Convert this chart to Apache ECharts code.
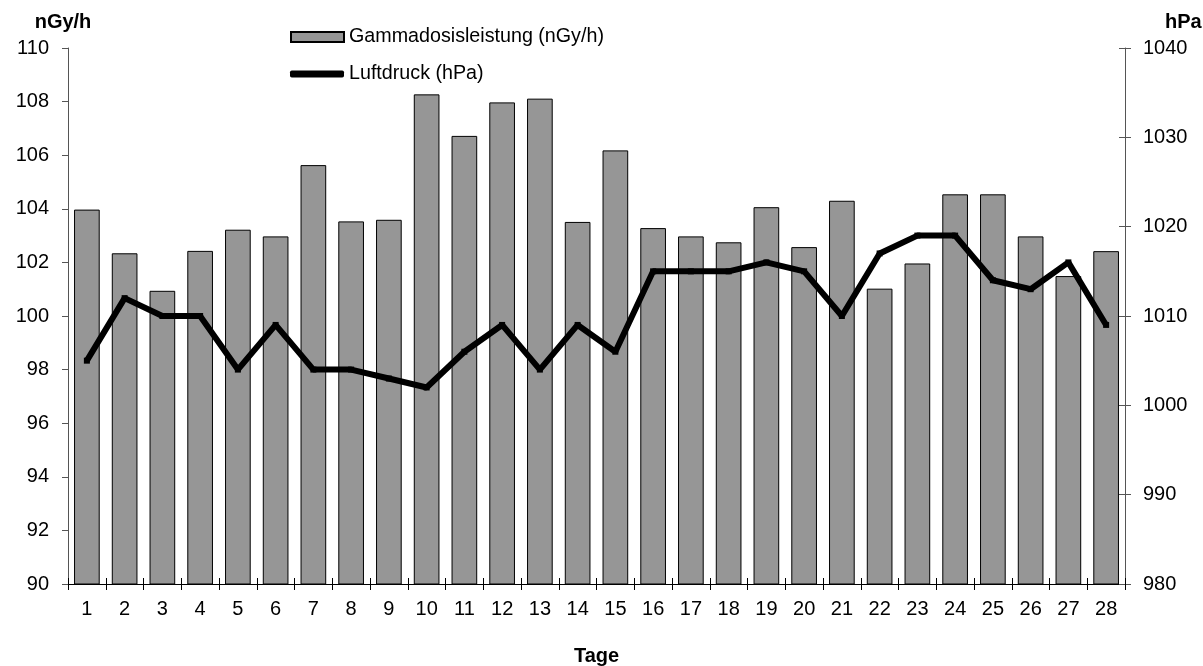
<!DOCTYPE html>
<html>
<head>
<meta charset="utf-8">
<script src="https://cdn.jsdelivr.net/npm/echarts@6/dist/echarts.min.js"></script>
<style>
html,body{margin:0;padding:0;background:#fff;}
#chart{width:1203px;height:666px;}
</style>
</head>
<body>
<div id="chart"></div>
<script>
const days = ['1','2','3','4','5','6','7','8','9','10','11','12','13','14','15','16','17','18','19','20','21','22','23','24','25','26','27','28'];
const gamma = [103.97,102.34,100.94,102.43,103.22,102.97,105.63,103.53,103.59,108.27,106.72,107.97,108.11,103.51,106.18,103.28,102.97,102.75,104.06,102.57,104.30,101.02,101.96,104.54,104.54,102.97,101.49,102.42];
const pressure = [1005,1012,1010,1010,1004,1009,1004,1004,1003,1002,1006,1009,1004,1009,1006,1015,1015,1015,1016,1015,1010,1017,1019,1019,1014,1013,1016,1009];
const leftTicks = {min: 90, max: 110, interval: 2};
const rightTicks = {min: 980, max: 1040, interval: 10};
const gammaName = 'Gammadosisleistung (nGy/h)';
const pressureName = 'Luftdruck (hPa)';

const FONT = 'Arial, "Liberation Sans", sans-serif';
const plain = v => String(v);
const chart = echarts.init(document.getElementById('chart'), null, {renderer: 'canvas'});
chart.setOption({
  animation: false,
  backgroundColor: '#fff',
  textStyle: {fontFamily: FONT, color: '#000'},
  grid: {left: 68, right: 78, top: 48, bottom: 82, containLabel: false, outerBoundsMode: 'none'},
  legend: [
    {data: [gammaName], left: 285, top: 22, itemWidth: 53, itemHeight: 10, itemGap: 0,
     textStyle: {fontFamily: FONT, fontSize: 19.7, color: '#000'}, icon: 'rect'},
    {data: [{name: pressureName, icon: 'roundRect'}], left: 285, top: 59, itemWidth: 54, itemHeight: 7, itemGap: 0,
     textStyle: {fontFamily: FONT, fontSize: 19.7, color: '#000'}}
  ],
  xAxis: [
    {type: 'category', data: days, boundaryGap: true,
     name: 'Tage', nameLocation: 'middle', nameGap: 62,
     nameTextStyle: {fontFamily: FONT, fontSize: 20, fontWeight: 'bold', color: '#000'},
     axisLine: {lineStyle: {color: '#000', width: 1}},
     axisTick: {show: true, length: 6, inside: false, alignWithLabel: false, lineStyle: {color: '#000'}},
     axisLabel: {fontFamily: FONT, fontSize: 20, color: '#000', margin: 15},
     splitLine: {show: false}},
    {type: 'category', data: days, boundaryGap: true, position: 'bottom',
     axisLine: {show: false},
     axisTick: {show: true, length: 6, inside: true, lineStyle: {color: '#000'}},
     axisLabel: {show: false}, splitLine: {show: false}}
  ],
  yAxis: [
    {type: 'value', min: leftTicks.min, max: leftTicks.max, interval: leftTicks.interval, position: 'left',
     name: 'nGy/h', nameLocation: 'end', nameGap: 16,
     nameTextStyle: {fontFamily: FONT, fontSize: 20, fontWeight: 'bold', color: '#000', padding: [0, 10, 0, 0]},
     axisLine: {show: true, lineStyle: {color: '#555', width: 1}},
     axisTick: {show: true, length: 6, inside: false, lineStyle: {color: '#555'}},
     axisLabel: {fontFamily: FONT, fontSize: 20, color: '#000', margin: 19, formatter: plain},
     splitLine: {show: false}},
    {type: 'value', min: rightTicks.min, max: rightTicks.max, interval: rightTicks.interval, position: 'right',
     name: 'hPa', nameLocation: 'end', nameGap: 16,
     nameTextStyle: {fontFamily: FONT, fontSize: 20, fontWeight: 'bold', color: '#000', align: 'left', padding: [0, 0, 0, 40]},
     axisLine: {show: true, lineStyle: {color: '#555', width: 1}},
     axisTick: {show: true, length: 6, inside: false, lineStyle: {color: '#555'}},
     axisLabel: {fontFamily: FONT, fontSize: 20, color: '#000', margin: 18, formatter: plain},
     splitLine: {show: false}},
    {type: 'value', min: rightTicks.min, max: rightTicks.max, interval: rightTicks.interval, position: 'right',
     axisLine: {show: false},
     axisTick: {show: true, length: 6, inside: true, lineStyle: {color: '#555'}},
     axisLabel: {show: false}, splitLine: {show: false}}
  ],
  series: [
    {name: gammaName, type: 'bar', data: gamma, xAxisIndex: 0, yAxisIndex: 0,
     barCategoryGap: '32%',
     itemStyle: {color: '#969696', borderColor: '#000', borderWidth: 1}},
    {name: pressureName, type: 'line', data: pressure, xAxisIndex: 0, yAxisIndex: 1,
     symbol: 'rect', symbolSize: 6, showSymbol: true,
     lineStyle: {color: '#000', width: 6},
     itemStyle: {color: '#000'}}
  ]
});
</script>
</body>
</html>
